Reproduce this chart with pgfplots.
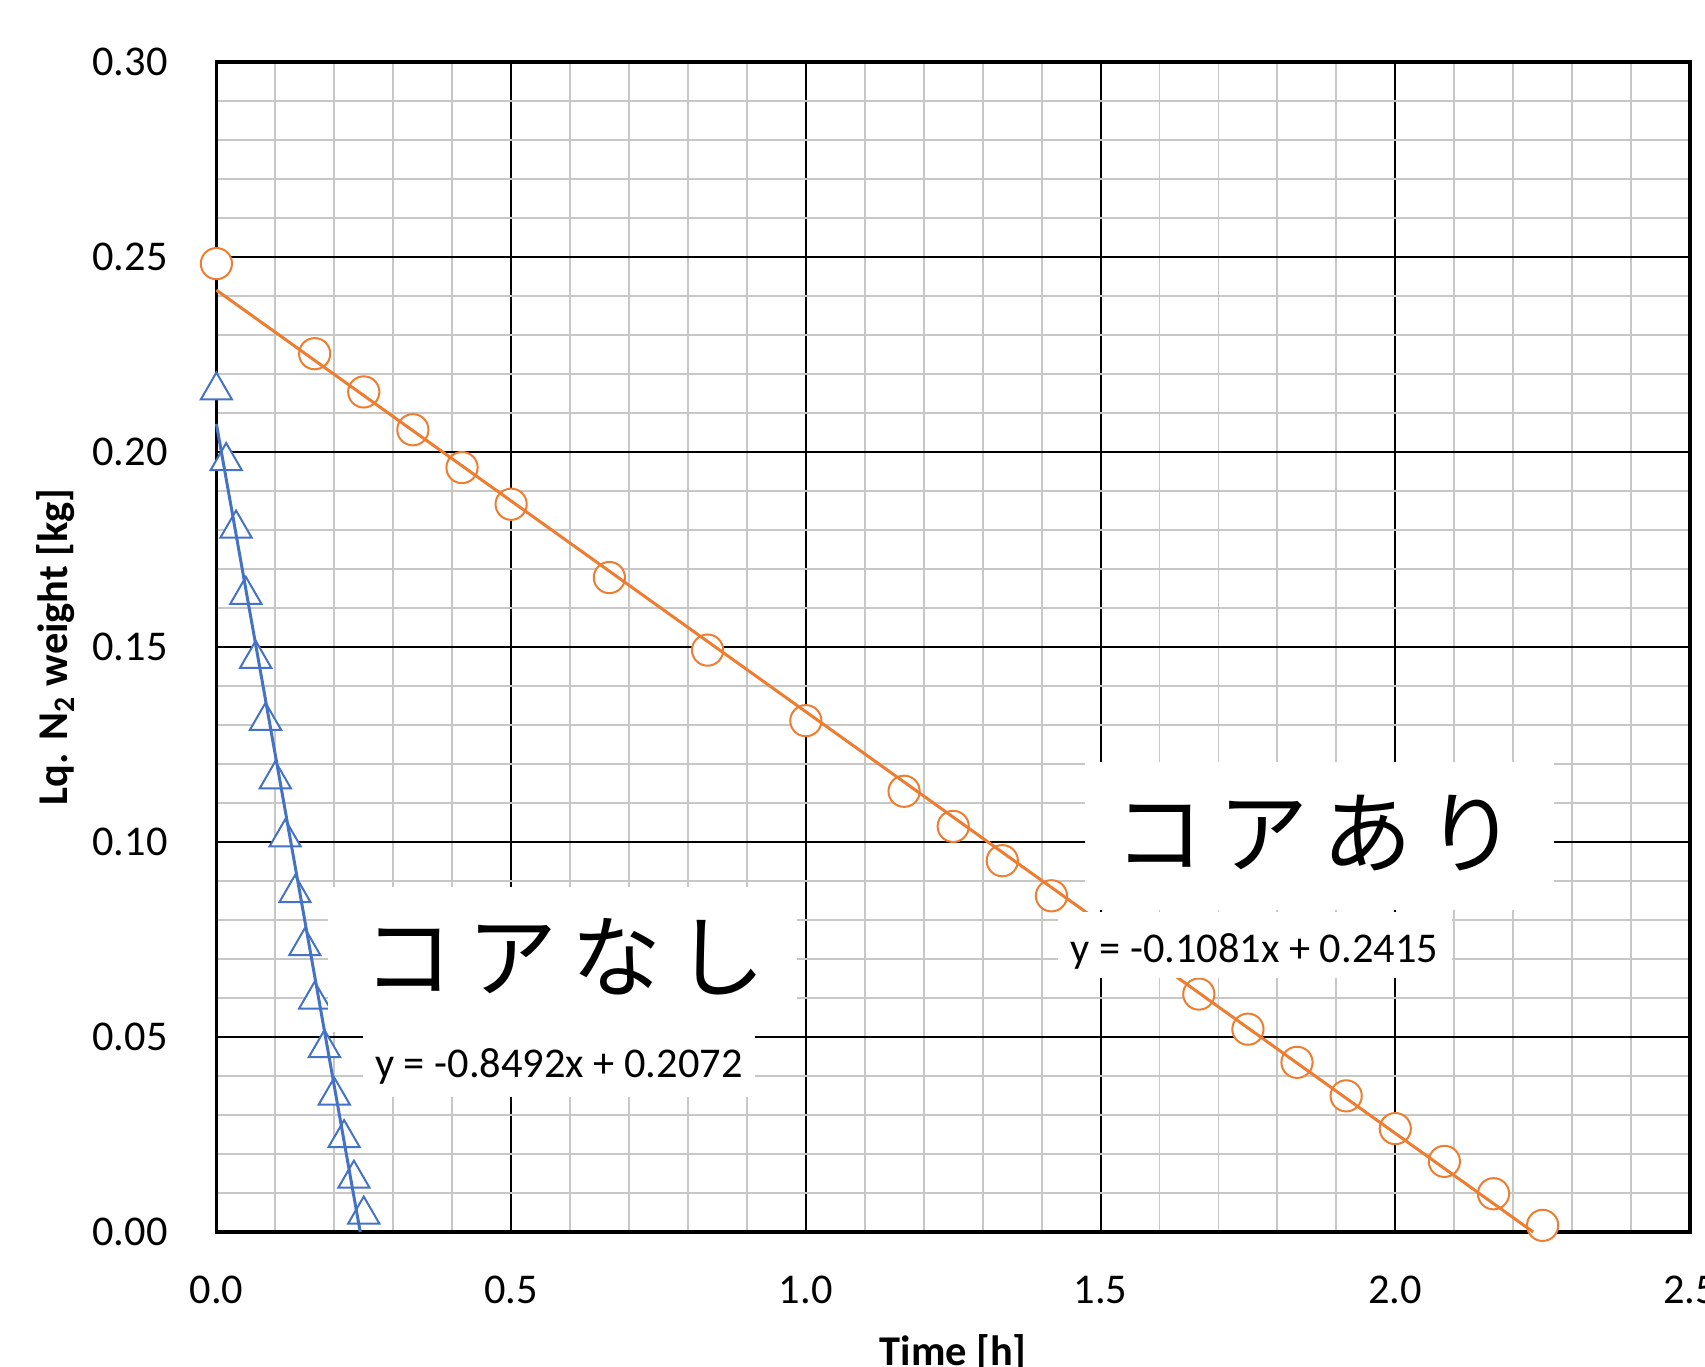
\documentclass[border=0pt]{standalone}
\usepackage{pgfplots}
\pgfplotsset{compat=1.18}
\usepackage{fontspec}
\setmainfont{Carlito}
\newfontfamily\jp{Noto Sans CJK JP}
\definecolor{xlblue}{HTML}{4472C4}
\definecolor{xlorange}{HTML}{ED7D31}
\pgfplotsset{
  base/.style={
    at={(54.1pt,33.75pt)}, anchor=south west,
    scale only axis, width=368.4pt, height=292.5pt,
    xmin=0, xmax=2.5, ymin=0, ymax=0.3,
    clip=false,
  }
}
\begin{document}
\begin{tikzpicture}
\useasboundingbox (0,0) rectangle (426.25pt,341.75pt);
\begin{axis}[
  base,
  xtick={0,0.5,1,1.5,2,2.5},
  ytick={0,0.05,0.1,0.15,0.2,0.25,0.3},
  minor x tick num=4, minor y tick num=4,
  grid=both,
  major grid style={black, line width=0.5pt},
  minor grid style={black!22, line width=0.45pt},
  axis line style={black, line width=0.8pt},
  tick style={draw=none},
  /pgf/number format/assume math mode=true,
  tick label style={font=\fontsize{10.6pt}{12pt}\selectfont},
  x tick label style={/pgf/number format/.cd, fixed, fixed zerofill, precision=1, /tikz/.cd, anchor=north, inner sep=0pt, yshift=-10.75pt},
  y tick label style={/pgf/number format/.cd, fixed, fixed zerofill, precision=2, /tikz/.cd, anchor=east, inner sep=0pt, xshift=-12pt},
  xlabel={\bfseries Time [h]},
  xlabel style={at={(axis description cs:0.5,-0.0872)}, anchor=north, inner sep=0pt, font=\fontsize{10.6pt}{12pt}\selectfont},
  ylabel={\bfseries Lq. N\textsubscript{2} weight [kg]},
  ylabel style={at={(axis description cs:-0.0953,0.5)}, anchor=south, inner sep=0pt, font=\fontsize{10.6pt}{12pt}\selectfont},
]
% with core (orange circles)
\addplot[only marks, mark=*, mark size=3.9pt, mark options={fill=white, draw=xlorange, line width=0.5pt}] coordinates {
(0,0.2483) (0.1667,0.2252) (0.25,0.2154) (0.3333,0.2057) (0.4167,0.1960)
(0.5,0.1866) (0.6667,0.1678) (0.8333,0.1492) (1.0,0.1311) (1.1667,0.1130)
(1.25,0.1040) (1.3333,0.0952) (1.4167,0.0862) (1.5,0.0775) (1.5833,0.0695)
(1.6667,0.0610) (1.75,0.0520) (1.8333,0.0435) (1.9167,0.0349) (2.0,0.0265)
(2.0833,0.0181) (2.1667,0.0098) (2.25,0.0017)
};
% without core (blue triangles)
\addplot[only marks, mark=triangle*, mark size=4.5pt, mark options={fill=white, draw=xlblue, line width=0.5pt, yshift=-1.1pt}] coordinates {
(0,0.2169) (0.016667,0.1988) (0.033333,0.1815) (0.05,0.1645) (0.066667,0.1481)
(0.083333,0.1322) (0.1,0.1172) (0.116667,0.1023) (0.133333,0.0880) (0.15,0.0744)
(0.166667,0.0607) (0.183333,0.0483) (0.2,0.0361) (0.216667,0.0252) (0.233333,0.0148)
(0.25,0.0056)
};
\end{axis}
\begin{axis}[base, hide axis]
% trendlines
\addplot[xlorange, line width=0.75pt] coordinates {(0,0.2415) (2.234,0)};
\addplot[xlblue, line width=0.75pt] coordinates {(0,0.2072) (0.244,0)};
\coordinate (b1a) at (axis cs:0.1891,0.0513);
\coordinate (b1b) at (axis cs:0.9848,0.0885);
\coordinate (b2a) at (axis cs:0.2485,0.0346);
\coordinate (b2b) at (axis cs:0.9133,0.0512);
\coordinate (b3a) at (axis cs:1.4730,0.0826);
\coordinate (b3b) at (axis cs:2.2701,0.1205);
\coordinate (b4a) at (axis cs:1.4272,0.0651);
\coordinate (b4b) at (axis cs:2.0955,0.0820);
\coordinate (t1) at (axis cs:0.5911,0.0705);
\coordinate (t2) at (axis cs:1.8648,0.1024);
\coordinate (t3) at (axis cs:0.581,0.0395);
\coordinate (t4) at (axis cs:1.761,0.069);
\end{axis}
% label boxes
\fill[white] (b1a) rectangle (b1b);
\fill[white] (b2a) rectangle (b2b);
\fill[white] (b3a) rectangle (b3b);
\fill[white] (b4a) rectangle (b4b);
\node[anchor=center, inner sep=0pt, font=\jp\fontsize{22.5pt}{26pt}\selectfont] at (t1) {コ\hspace{3.5pt}ア\hspace{3.5pt}な\hspace{3.5pt}し};
\node[anchor=center, inner sep=0pt, font=\jp\fontsize{22.5pt}{26pt}\selectfont] at (t2) {コ\hspace{3.5pt}ア\hspace{3.5pt}あ\hspace{3.5pt}り};
\node[anchor=base, inner sep=0pt, font=\fontsize{10.6pt}{12pt}\selectfont] at (t3) {y = -0.8492x + 0.2072};
\node[anchor=base, inner sep=0pt, font=\fontsize{10.6pt}{12pt}\selectfont] at (t4) {y = -0.1081x + 0.2415};
\end{tikzpicture}
\end{document}
